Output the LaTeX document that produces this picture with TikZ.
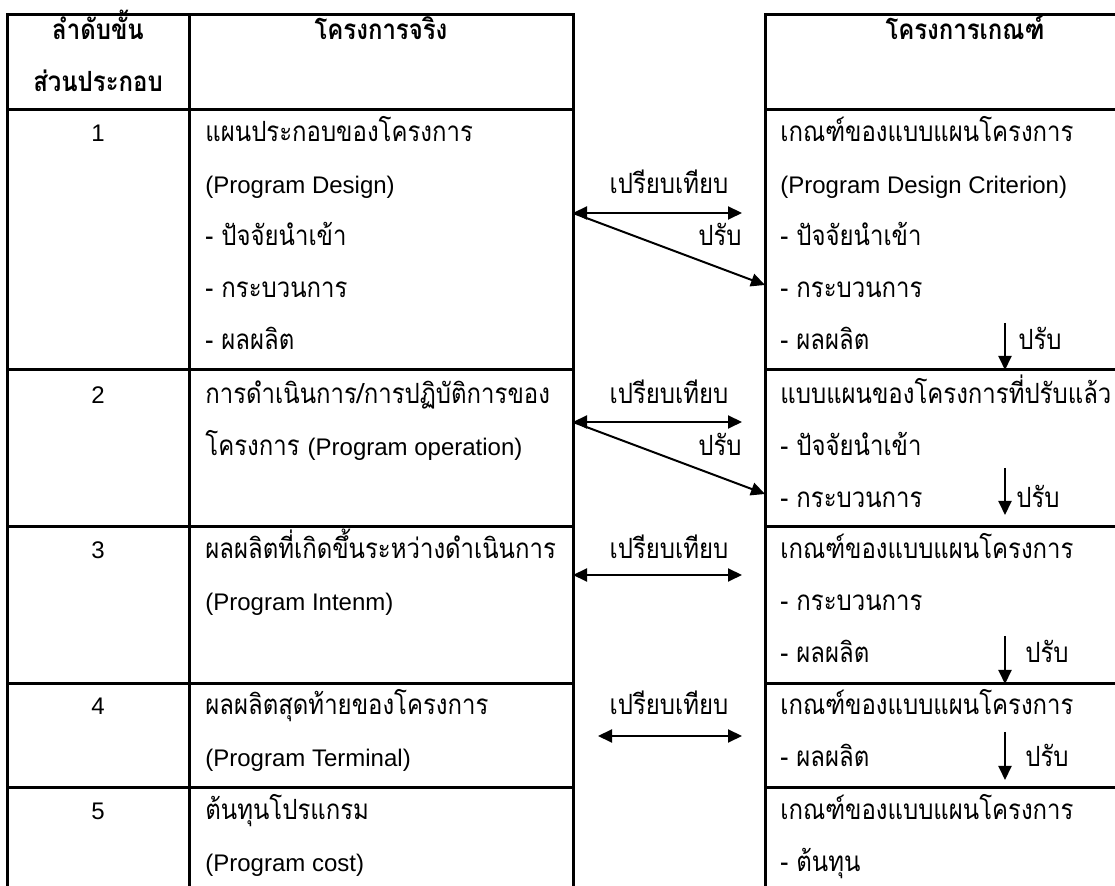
\documentclass[tikz,border=0pt]{standalone}
\usepackage{fontspec}
\setmainfont{Loma}[Script=Thai, FakeStretch=0.86, Scale=1.16]
\newfontfamily\latfont{Liberation Sans}
\newcommand\lat[1]{{\latfont #1}}
\usetikzlibrary{arrows.meta}

\begin{document}
\begin{tikzpicture}[x=0.5pt, y=-0.5pt,
    every node/.style={inner sep=0pt, font=\fontsize{12}{14}\selectfont},
    txt/.style={anchor=base west},
    mid/.style={anchor=base},
    head/.style={anchor=base, font=\fontsize{12}{14}\selectfont\bfseries},
    rule/.style={line width=1.5pt},
    arr/.style={line width=1pt, -{Triangle[length=7pt,width=6.5pt]}},
    both/.style={line width=1pt, {Triangle[length=7pt,width=6.5pt]}-{Triangle[length=7pt,width=6.5pt]}}]
    \useasboundingbox (0,0) rectangle (1115,886);
    \def \xa {205}
    \def \xb {780}

    % two tables
    \draw[rule] (7.5,890) -- (7.5,15) -- (573,15) -- (573,890);
    \draw[rule] (189,15) -- (189,890);
    \draw[rule] (1120,15) -- (765,15) -- (765,890);
    \foreach \y in {110,370,527,684,788} {
        \draw[rule] (7.5,\y) -- (573,\y);
        \draw[rule] (765,\y) -- (1120,\y);
    }

    \node[head] (h1) at (98,40) {ลำดับขั้น};
    \node[head] (h2) at (98,92) {ส่วนประกอบ};
    \node[head] (h3) at (381,40) {โครงการจริง};
    \node[head] (h4) at (965,40) {โครงการเกณฑ์};

    \node[mid] (n1) at (98,142) {\lat{1}};
    \node[mid] (n2) at (98,404) {\lat{2}};
    \node[mid] (n3) at (98,559) {\lat{3}};
    \node[mid] (n4) at (98,715) {\lat{4}};
    \node[mid] (n5) at (98,820) {\lat{5}};

    \node[txt] (a11) at (\xa,142) {แผนประกอบของโครงการ};
    \node[txt] (a12) at (\xa,194) {\lat{(Program Design)}};
    \node[txt] (a13) at (\xa,246) {- ปัจจัยนำเข้า};
    \node[txt] (a14) at (\xa,298) {- กระบวนการ};
    \node[txt] (a15) at (\xa,350) {- ผลผลิต};
    \node[txt] (a21) at (\xa,404) {การดำเนินการ/การปฏิบัติการของ};
    \node[txt] (a22) at (\xa,456) {โครงการ \lat{(Program operation)}};
    \node[txt] (a31) at (\xa,559) {ผลผลิตที่เกิดขึ้นระหว่างดำเนินการ};
    \node[txt] (a32) at (\xa,611) {\lat{(Program Intenm)}};
    \node[txt] (a41) at (\xa,715) {ผลผลิตสุดท้ายของโครงการ};
    \node[txt] (a42) at (\xa,767) {\lat{(Program Terminal)}};
    \node[txt] (a51) at (\xa,820) {ต้นทุนโปรแกรม};
    \node[txt] (a52) at (\xa,872) {\lat{(Program cost)}};

    \node[txt] (b11) at (\xb,142) {เกณฑ์ของแบบแผนโครงการ};
    \node[txt] (b12) at (\xb,194) {\lat{(Program Design Criterion)}};
    \node[txt] (b13) at (\xb,246) {- ปัจจัยนำเข้า};
    \node[txt] (b14) at (\xb,298) {- กระบวนการ};
    \node[txt] (b15) at (\xb,350) {- ผลผลิต};
    \node[txt] (b21) at (\xb,404) {แบบแผนของโครงการที่ปรับแล้ว};
    \node[txt] (b22) at (\xb,456) {- ปัจจัยนำเข้า};
    \node[txt] (b23) at (\xb,508) {- กระบวนการ};
    \node[txt] (b31) at (\xb,559) {เกณฑ์ของแบบแผนโครงการ};
    \node[txt] (b32) at (\xb,611) {- กระบวนการ};
    \node[txt] (b33) at (\xb,663) {- ผลผลิต};
    \node[txt] (b41) at (\xb,715) {เกณฑ์ของแบบแผนโครงการ};
    \node[txt] (b42) at (\xb,767) {- ผลผลิต};
    \node[txt] (b51) at (\xb,820) {เกณฑ์ของแบบแผนโครงการ};
    \node[txt] (b52) at (\xb,872) {- ต้นทุน};

    % compare
    \node[mid] (c1) at (669,194) {เปรียบเทียบ};
    \node[mid] (c2) at (669,404) {เปรียบเทียบ};
    \node[mid] (c3) at (669,559) {เปรียบเทียบ};
    \node[mid] (c4) at (669,715) {เปรียบเทียบ};
    \coordinate (l1) at (573,213);
    \coordinate (r1) at (742,213);
    \coordinate (l2) at (573,422);
    \coordinate (r2) at (742,422);
    \coordinate (l3) at (573,575);
    \coordinate (r3) at (742,575);
    \coordinate (l4) at (598,736);
    \coordinate (r4) at (742,736);
    \draw[both] (l1) -- (r1);
    \draw[both] (l2) -- (r2);
    \draw[both] (l3) -- (r3);
    \draw[both] (l4) -- (r4);

    % adjust
    \coordinate (d1) at (765,285);
    \coordinate (d2) at (765,494);
    \draw[arr] (l1) -- (d1);
    \draw[arr] (l2) -- (d2);
    \node[anchor=base east] (p1) at (742,246) {ปรับ};
    \node[anchor=base east] (p2) at (742,456) {ปรับ};

    \coordinate (s1) at (1005,323);
    \coordinate (t1) at (1005,370);
    \coordinate (s2) at (1005,468);
    \coordinate (t2) at (1005,515);
    \coordinate (s3) at (1005,636);
    \coordinate (t3) at (1005,684);
    \coordinate (s4) at (1005,732);
    \coordinate (t4) at (1005,780);
    \draw[arr] (s1) -- (t1);
    \draw[arr] (s2) -- (t2);
    \draw[arr] (s3) -- (t3);
    \draw[arr] (s4) -- (t4);
    \node[txt] (q1) at (1018,350) {ปรับ};
    \node[txt] (q2) at (1016,508) {ปรับ};
    \node[txt] (q3) at (1025,663) {ปรับ};
    \node[txt] (q4) at (1025,767) {ปรับ};
\end{tikzpicture}
\end{document}
